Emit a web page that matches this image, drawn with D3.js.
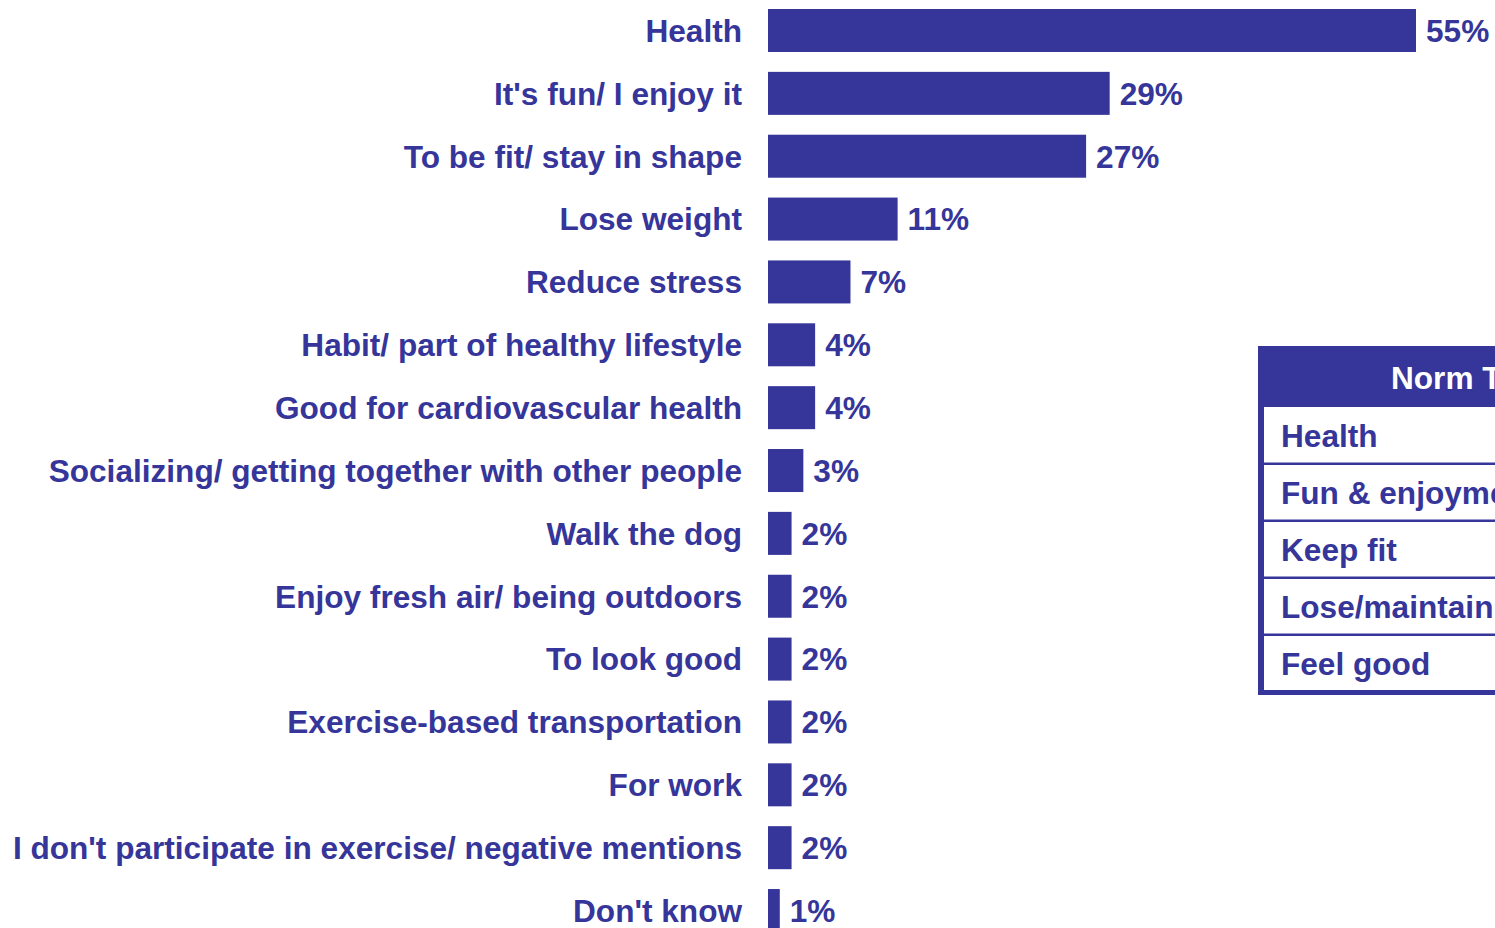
<!DOCTYPE html>
<html>
<head>
<meta charset="utf-8">
<script src="https://cdn.jsdelivr.net/npm/d3@7"></script>
<style>
  html, body { margin: 0; padding: 0; background: #fff; overflow: hidden; }
  svg { display: block; }
  text { font-family: "Liberation Sans", Arial, Helvetica, sans-serif; font-weight: bold; }
</style>
</head>
<body>
<svg id="chart" width="1495" height="928"></svg>
<script>
// Reasons for exercising, share of respondents (%)
const categories = [
  "Health",
  "It's fun/ I enjoy it",
  "To be fit/ stay in shape",
  "Lose weight",
  "Reduce stress",
  "Habit/ part of healthy lifestyle",
  "Good for cardiovascular health",
  "Socializing/ getting together with other people",
  "Walk the dog",
  "Enjoy fresh air/ being outdoors",
  "To look good",
  "Exercise-based transportation",
  "For work",
  "I don't participate in exercise/ negative mentions",
  "Don't know"
];
const values = [55, 29, 27, 11, 7, 4, 4, 3, 2, 2, 2, 2, 2, 2, 1];

// Norm table rows
const normTitle = "Norm Top 5";
const normRows = ["Health", "Fun & enjoyment", "Keep fit", "Lose/maintain weight", "Feel good"];

const color = "#35359a";
const fontSize = 31.6;
const svg = d3.select("#chart");

const x = d3.scaleLinear().domain([0, 55]).range([768, 1416]);

// rows 62.86px apart, bars 43px tall
const pitch = 62.86, barH = 43;
const y = d3.scaleBand().domain(categories)
  .range([9, 9 + categories.length * pitch - (pitch - barH)])
  .paddingInner((pitch - barH) / pitch).paddingOuter(0);

const g = svg.append("g");

g.selectAll("rect.bar").data(categories).join("rect")
  .attr("class", "bar")
  .attr("x", x(0))
  .attr("y", d => y(d))
  .attr("width", (d, i) => x(values[i]) - x(0))
  .attr("height", y.bandwidth())
  .attr("fill", color);

g.selectAll("text.cat").data(categories).join("text")
  .attr("class", "cat")
  .attr("x", 742)
  .attr("y", d => y(d) + y.bandwidth() / 2)
  .attr("dy", "0.36em")
  .attr("text-anchor", "end")
  .attr("font-size", fontSize)
  .attr("fill", color)
  .text(d => d);

g.selectAll("text.val").data(categories).join("text")
  .attr("class", "val")
  .attr("x", (d, i) => x(values[i]) + 10)
  .attr("y", d => y(d) + y.bandwidth() / 2)
  .attr("dy", "0.36em")
  .attr("font-size", fontSize)
  .attr("fill", color)
  .text((d, i) => values[i] + "%");

// Norm table
const tx = 1258, tw = 500;
const headTop = 346, headBottom = 407;
const rowY = d3.scaleBand().domain(normRows).range([headBottom, 692]);
const t = svg.append("g");

t.append("rect").attr("x", tx).attr("y", headTop).attr("width", tw).attr("height", headBottom - headTop).attr("fill", color);
t.append("text").attr("x", 1391).attr("y", (headTop + headBottom) / 2).attr("dy", "0.38em")
  .attr("font-size", fontSize).attr("fill", "#fff").text(normTitle);

// left and bottom borders
t.append("rect").attr("x", tx).attr("y", headBottom).attr("width", 6).attr("height", 695 - headBottom).attr("fill", color);
t.append("rect").attr("x", tx).attr("y", 690).attr("width", tw).attr("height", 5).attr("fill", color);

// row separators
t.selectAll("rect.sep").data(normRows.slice(1)).join("rect")
  .attr("class", "sep")
  .attr("x", tx).attr("y", d => rowY(d) - 1.5)
  .attr("width", tw).attr("height", 2.5)
  .attr("fill", color);

t.selectAll("text.row").data(normRows).join("text")
  .attr("class", "row")
  .attr("x", 1281)
  .attr("y", d => rowY(d) + rowY.bandwidth() / 2)
  .attr("dy", "0.36em")
  .attr("font-size", fontSize)
  .attr("fill", color)
  .text(d => d);
</script>
</body>
</html>
